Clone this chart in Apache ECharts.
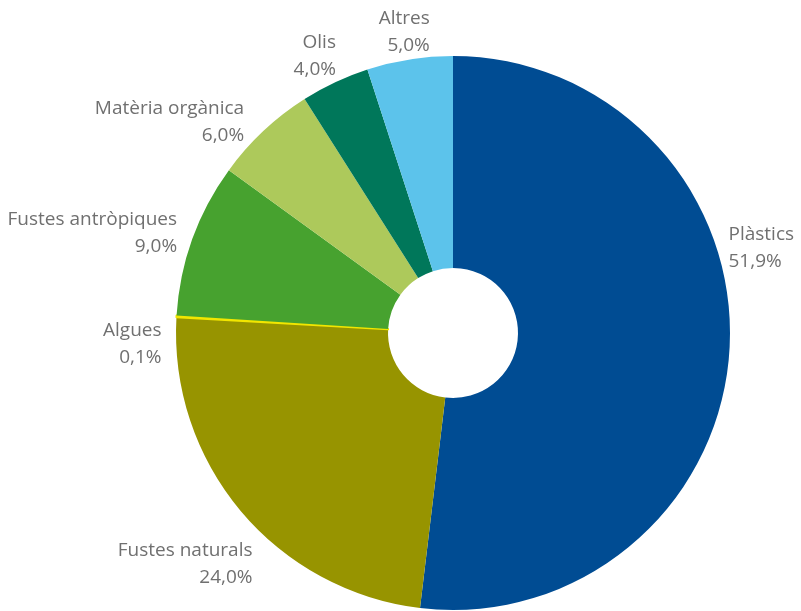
<!DOCTYPE html>
<html>
<head>
<meta charset="utf-8">
<script src="https://cdn.jsdelivr.net/npm/echarts@6/dist/echarts.min.js"></script>
<style>
  html, body { margin: 0; padding: 0; background: #fff; }
  #chart { width: 801px; height: 611px; }
</style>
</head>
<body>
<div id="chart"></div>
<script>
// categories i valors (%), en l'ordre del gràfic (sentit horari des de dalt)
const categories = ['Plàstics', 'Fustes naturals', 'Algues', 'Fustes antròpiques', 'Matèria orgànica', 'Olis', 'Altres'];
const values = [51.9, 24.0, 0.1, 9.0, 6.0, 4.0, 5.0];

const colors = ['#004c93', '#979400', '#f2e600', '#47a22f', '#adc95b', '#00775a', '#5cc3eb'];
// petits desplaçaments de les etiquetes respecte la posició per defecte
const labelShift = [[-18, -102], [26, 45], [2, 28], [1, -2], [-6, 0], [11, -15], [27, -15]];

const chart = echarts.init(document.getElementById('chart'));

const fmt = (v) => v.toFixed(1).replace('.', ',') + '%';

chart.setOption({
  animation: false,
  color: colors,
  series: [{
    type: 'pie',
    center: [453, 333],
    radius: [65, 277],
    startAngle: 90,
    clockwise: true,
    avoidLabelOverlap: false,
    itemStyle: { borderWidth: 0 },
    label: {
      show: true,
      position: 'outside',
      fontFamily: 'Open Sans',
      fontSize: 19,
      lineHeight: 27,
      color: '#707070',
      overflow: 'none',
      formatter: (p) => p.name + '\n' + fmt(p.value)
    },
    labelLine: { show: false, length: 12, length2: 0 },
    labelLayout: (params) => ({
      dx: labelShift[params.dataIndex][0],
      dy: labelShift[params.dataIndex][1]
    }),
    data: categories.map((name, i) => ({
      name: name,
      value: values[i],
      itemStyle: name === 'Algues' ? { borderColor: colors[i], borderWidth: 2 } : undefined
    }))
  }]
});
</script>
</body>
</html>
